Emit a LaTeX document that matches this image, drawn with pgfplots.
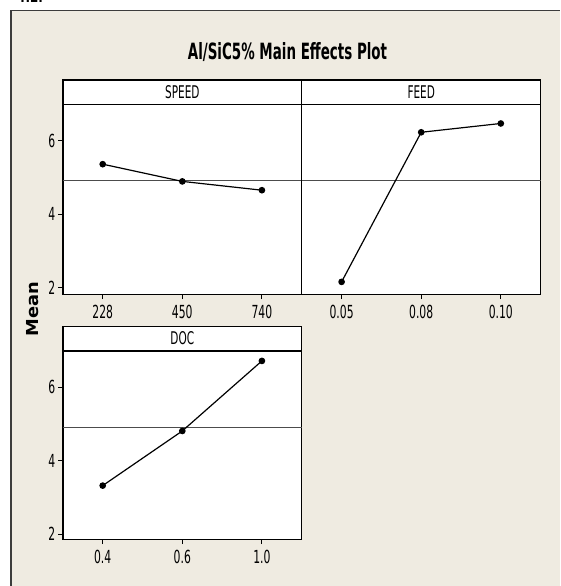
\documentclass[border=0pt]{standalone}
\usepackage{fontspec}
\setmainfont{DejaVu Sans}
\newfontfamily\mfont[FakeStretch=0.6]{DejaVu Sans}
\newfontfamily\lfont[FakeStretch=1.08]{DejaVu Sans}
\usepackage{pgfplots}
\pgfplotsset{compat=1.18}
\definecolor{bg}{RGB}{239,235,225}
\definecolor{framecol}{RGB}{60,60,60}

\pgfplotsset{
  panel/.style={
    scale only axis, width=238.8pt, height=214.7pt,
    xmin=0.5, xmax=3.5, ymin=1.80, ymax=7.656,
    axis background/.style={fill=white},
    axis line style={line width=1.3pt},
    xtick={1,2,3}, ytick={2,4,6}, yticklabels={2,4,6},
    tick align=outside, major tick length=4.5pt,
    xtick pos=bottom, ytick pos=left,
    tick style={line width=0.9pt, black},
    tick label style={font=\mfont\fontsize{18}{18}\selectfont, inner sep=1pt},
    xticklabel style={yshift=-5pt},
    yticklabel style={xshift=-2pt},
    clip=false,
  },
  meanline/.style={line width=1pt, color=black!70, forget plot},
  means/.style={line width=1.2pt, black, mark=*, mark size=2.7pt},
}
\tikzset{strip/.style={font=\mfont\fontsize{17.5}{17.5}\selectfont, anchor=base}}

\begin{document}
\begin{tikzpicture}[x=1pt,y=1pt]
\useasboundingbox (0,0) rectangle (560,586);
\fill[white] (0,0) rectangle (560,586);
\fill[bg] (10.7,0) rectangle (560,575.3);
\draw[framecol, line width=1.6pt] (10.7,0) -- (10.7,575.3) -- (560,575.3);
\begin{scope}
  \clip (0,577) rectangle (560,586);
  \node[anchor=base west, inner sep=0pt, font=\mfont\bfseries\fontsize{20}{20}\selectfont] at (17,583.3) {4.2.};
\end{scope}

\node[anchor=base, inner sep=0pt, font=\mfont\bfseries\fontsize{22.4}{22.4}\selectfont] at (287.5,526.7) {Al/SiC5\% Main Effects Plot};
\node[rotate=90, inner sep=0pt, font=\lfont\bfseries\fontsize{16.5}{16.5}\selectfont] at (33,277) {Mean};

% SPEED
\begin{axis}[panel, at={(62.9pt,291.3pt)}, anchor=south west,
  xticklabels={228,450,740}]
  \addplot[meanline] coordinates {(0.5,4.91) (3.5,4.91)};
  \addplot[means] coordinates {(1,5.36) (2,4.89) (3,4.65)};
  \draw[line width=1.3pt] (axis cs:0.5,6.99) -- (axis cs:3.5,6.99);
  \node[strip] at (axis cs:2,7.16) {SPEED};
\end{axis}

% FEED
\begin{axis}[panel, at={(301.8pt,291.3pt)}, anchor=south west,
  xticklabels={0.05,0.08,0.10}, ytick=\empty]
  \addplot[meanline] coordinates {(0.5,4.91) (3.5,4.91)};
  \addplot[means] coordinates {(1,2.15) (2,6.23) (3,6.47)};
  \draw[line width=1.3pt] (axis cs:0.5,6.99) -- (axis cs:3.5,6.99);
  \node[strip] at (axis cs:2,7.16) {FEED};
\end{axis}

% DOC
\begin{axis}[panel, at={(62.9pt,46.3pt)}, anchor=south west,
  height=213pt, ymin=1.845, ymax=7.653,
  xticklabels={0.4,0.6,1.0}]
  \addplot[meanline] coordinates {(0.5,4.91) (3.5,4.91)};
  \addplot[means] coordinates {(1,3.32) (2,4.81) (3,6.72)};
  \draw[line width=1.3pt] (axis cs:0.5,6.99) -- (axis cs:3.5,6.99);
  \node[strip] at (axis cs:2,7.17) {DOC};
\end{axis}
\end{tikzpicture}
\end{document}
